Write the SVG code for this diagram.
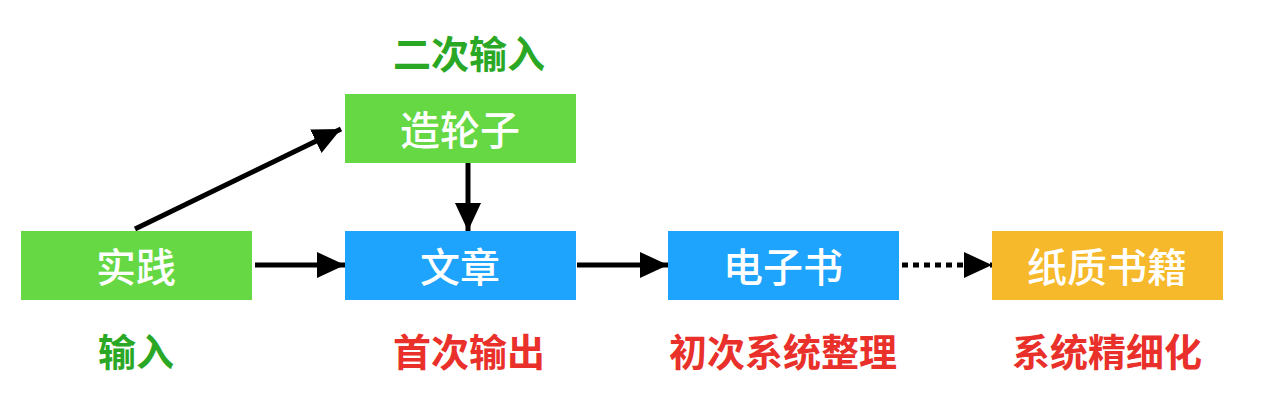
<svg xmlns="http://www.w3.org/2000/svg" width="1262" height="420" viewBox="0 0 1262 420">
<style>
.box-t{font-family:"Noto Sans CJK SC","Noto Sans",sans-serif;font-size:40px;font-weight:500;fill:#fff;text-anchor:middle;dominant-baseline:central}
.lbl{font-family:"Noto Sans CJK SC","Noto Sans",sans-serif;font-size:38px;font-weight:bold;text-anchor:middle;dominant-baseline:central}
.g{fill:#2aa825}
.r{fill:#e9302a}
.ln{stroke:#000;stroke-width:5;fill:none}
</style>
<defs>
<marker id="ah" markerUnits="userSpaceOnUse" markerWidth="28" markerHeight="28" viewBox="0 0 28 28" refX="28" refY="14" orient="auto">
<path d="M0,1 L28,14 L0,27 Z" fill="#000"/>
</marker>
</defs>
<rect width="1262" height="420" fill="#fff"/>
<g id="connectors">
<line class="ln" x1="135" y1="229" x2="341" y2="129" marker-end="url(#ah)"/>
<line class="ln" x1="468" y1="163" x2="468" y2="231" marker-end="url(#ah)"/>
<line class="ln" x1="255" y1="265" x2="345" y2="265" marker-end="url(#ah)"/>
<line class="ln" x1="577" y1="265" x2="668" y2="265" marker-end="url(#ah)"/>
<line class="ln" x1="902" y1="265" x2="992" y2="265" stroke-dasharray="6 5" marker-end="url(#ah)"/>
</g>
<g id="n-wheel"><rect x="345" y="94" width="231" height="69" fill="#65d844"/><text class="box-t" x="460" y="128">造轮子</text></g>
<g id="n-practice"><rect x="21" y="231" width="231" height="69" fill="#65d844"/><text class="box-t" x="136" y="265">实践</text></g>
<g id="n-article"><rect x="345" y="231" width="231" height="69" fill="#1ea4fc"/><text class="box-t" x="460" y="265">文章</text></g>
<g id="n-ebook"><rect x="668" y="231" width="231" height="69" fill="#1ea4fc"/><text class="box-t" x="783" y="265">电子书</text></g>
<g id="n-paper"><rect x="992" y="231" width="231" height="69" fill="#f6b92b"/><text class="box-t" x="1107" y="265">纸质书籍</text></g>
<g id="labels">
<text class="lbl g" x="469" y="51">二次输入</text>
<text class="lbl g" x="136" y="349">输入</text>
<text class="lbl r" x="469" y="349">首次输出</text>
<text class="lbl r" x="783" y="349">初次系统整理</text>
<text class="lbl r" x="1107" y="349">系统精细化</text>
</g>
</svg>
